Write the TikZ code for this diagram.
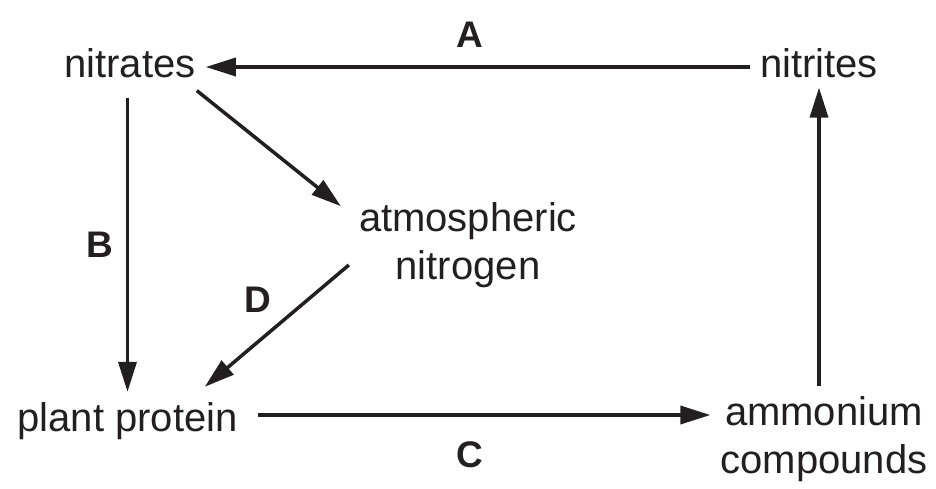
\documentclass[tikz,border=0pt]{standalone}
\usepackage{fontspec}
\setmainfont{Liberation Sans}
\usepackage{xcolor}
\usetikzlibrary{arrows.meta, positioning}
\definecolor{ink}{HTML}{231F20}

\begin{document}
\begin{tikzpicture}[x=1pt, y=-1pt,
  txt/.style={inner sep=10pt, align=center, text=ink, font=\fontsize{40}{48}\selectfont},
  lbl/.style={inner sep=0pt, text=ink, font=\fontsize{37}{40}\selectfont\bfseries},
  arr/.style={draw=ink, line width=3.5pt, -{Triangle[length=30pt, width=18pt]}}]
\useasboundingbox (0,0) rectangle (936,488);
\node[txt, anchor=base] (nitrates) at (130, 77) {nitrates};
\node[txt, anchor=base] (nitrites) at (819, 77) {nitrites};
\node[txt] (atmos) at (468, 245) {atmospheric\\nitrogen};
\node[txt, anchor=base] (plant) at (127.5, 431) {plant protein};
\node[txt] (ammon) at (824, 439) {ammonium\\compounds};
\node[lbl] (lblA) at (470, 35) {A};
\node[lbl] (lblB) at (100, 245) {B};
\node[lbl] (lblC) at (470, 455) {C};
\node[lbl] (lblD) at (258, 300) {D};
\draw[arr] ([yshift=10pt]nitrites.base west) -- ([yshift=10pt]nitrates.base east);
\draw[arr, shorten <=10pt] (nitrates.south -| plant.north) -- (plant.north);
\draw[arr] ([xshift=-9pt, yshift=-3pt]nitrates.south east) -- ([xshift=-8pt, yshift=-14pt]atmos.north west);
\draw[arr] ([yshift=-20pt]atmos.west) -- ([xshift=-43pt, yshift=5pt]plant.north east);
\draw[arr, shorten <=10pt] ([yshift=16pt]plant.base east) -- ([yshift=16pt]plant.base east -| ammon.west);
\draw[arr] (nitrites.south |- ammon.north) -- (nitrites.south);
\end{tikzpicture}
\end{document}
